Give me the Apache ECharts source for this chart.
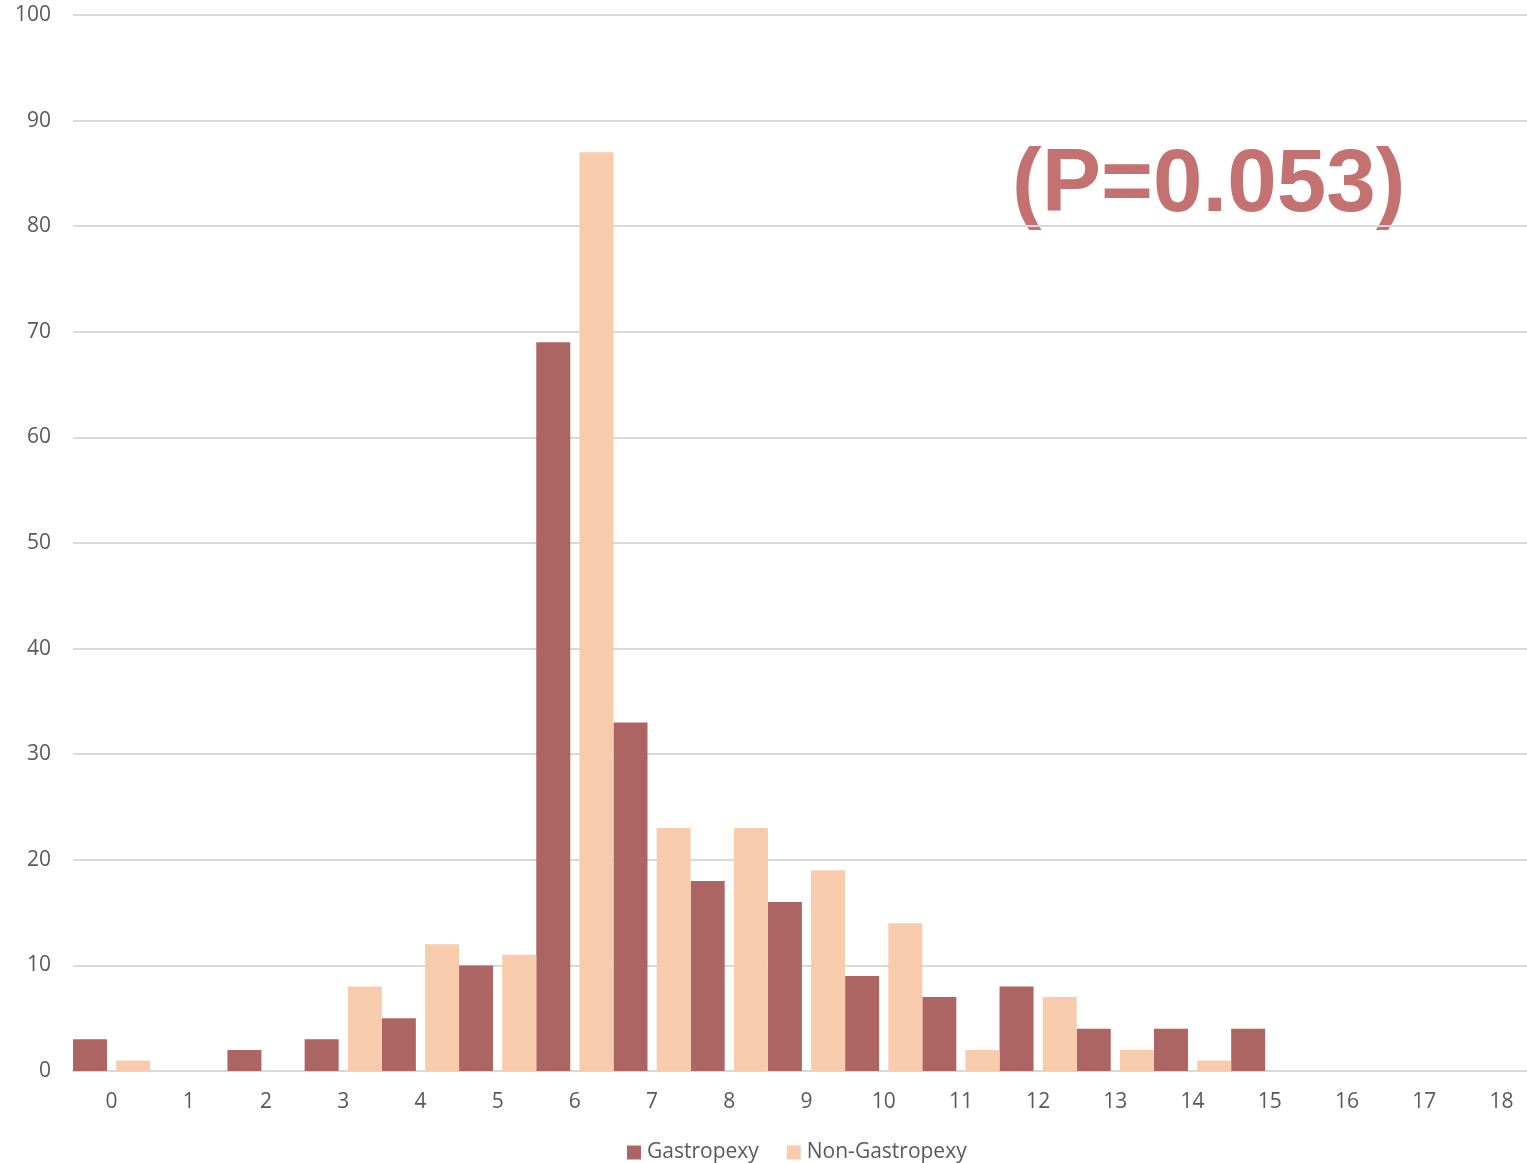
<!DOCTYPE html>
<html>
<head>
<meta charset="utf-8">
<script src="https://cdn.jsdelivr.net/npm/echarts@6/dist/echarts.min.js"></script>
<style>
  html, body { margin: 0; padding: 0; background: #fff; overflow: hidden; }
  #chart { width: 1527px; height: 1163px; }
</style>
</head>
<body>
<div id="chart"></div>
<script>
// Length-of-stay distribution (days) by group
const days = ['0','1','2','3','4','5','6','7','8','9','10','11','12','13','14','15','16','17','18'];
const gastropexy    = [3, 0, 2, 3, 5, 10, 69, 33, 18, 16, 9, 7, 8, 4, 4, 4, 0, 0, 0];
const nonGastropexy = [1, 0, 0, 8, 12, 11, 87, 23, 23, 19, 14, 2, 7, 2, 1, 0, 0, 0, 0];
const yTicks = { min: 0, max: 100, step: 10 };
const pValueText = '(P=0.053)';

const font = '"Open Sans", "Liberation Sans", sans-serif';
const chart = echarts.init(document.getElementById('chart'), null, { renderer: 'canvas' });

chart.setOption({
  animation: false,
  backgroundColor: '#ffffff',
  // plot area runs slightly past the right edge of the canvas
  grid: { left: 73, width: 1467, top: 15, bottom: 92, containLabel: false, outerBoundsMode: 'none' },
  legend: {
    top: 1137,
    left: 622,
    itemWidth: 14,
    itemHeight: 14,
    itemGap: 28,
    icon: 'rect',
    textStyle: { color: '#595959', fontSize: 21, fontFamily: font, padding: [0, 0, 0, 1] },
    data: ['Gastropexy', 'Non-Gastropexy']
  },
  xAxis: {
    type: 'category',
    data: days,
    axisLine: { show: true, lineStyle: { color: '#d9d9d9', width: 2 } },
    axisTick: { show: false },
    axisLabel: { color: '#595959', fontSize: 21, fontFamily: font, margin: 21 }
  },
  yAxis: {
    type: 'value',
    min: yTicks.min,
    max: yTicks.max,
    interval: yTicks.step,
    axisLine: { show: false },
    axisTick: { show: false },
    axisLabel: { color: '#595959', fontSize: 21, fontFamily: font, margin: 22 },
    splitLine: { lineStyle: { color: '#d9d9d9', width: 2 } }
  },
  series: [
    {
      name: 'Gastropexy',
      type: 'bar',
      data: gastropexy,
      barGap: '27%',
      barCategoryGap: '0%',
      itemStyle: { color: '#ad6563' }
    },
    {
      name: 'Non-Gastropexy',
      type: 'bar',
      data: nonGastropexy,
      barGap: '27%',
      barCategoryGap: '0%',
      itemStyle: { color: '#f8cbad' }
    }
  ],
  graphic: [
    {
      type: 'text',
      left: 1012,
      top: 142,
      style: {
        text: pValueText,
        fill: '#c47271',
        font: 'bold 89px "Liberation Sans", Arial, sans-serif'
      }
    }
  ]
});
</script>
</body>
</html>
